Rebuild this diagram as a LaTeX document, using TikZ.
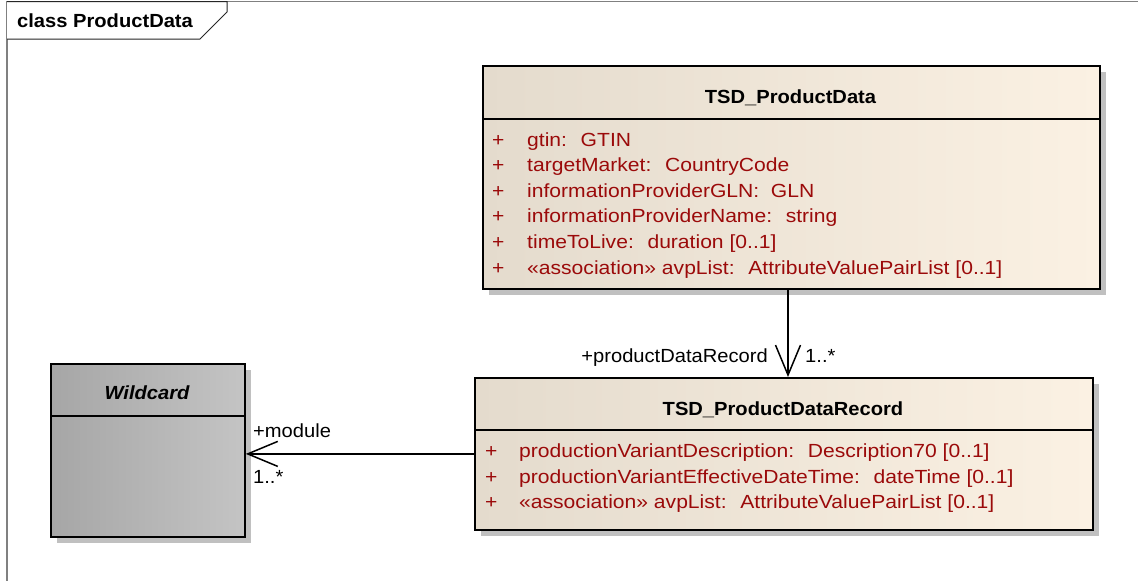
\documentclass[tikz,border=0pt]{standalone}
\usepackage{fontspec}
\setmainfont{Liberation Sans}[FakeStretch=1.06]
\newfontfamily\attrfont{Liberation Sans}[FakeStretch=1.11]
\usetikzlibrary{arrows.meta,shadows}

\definecolor{beigeL}{RGB}{228,219,205}
\definecolor{beigeR}{RGB}{251,241,227}
\definecolor{greyL}{RGB}{166,166,166}
\definecolor{greyR}{RGB}{196,196,196}
\definecolor{shadowgrey}{RGB}{192,192,192}
\definecolor{attrred}{RGB}{155,10,10}
\definecolor{framegrey}{RGB}{128,128,128}

\begin{document}
\begin{tikzpicture}[x=1pt,y=-1pt,
  font=\fontsize{19}{22}\selectfont,
  umlbox/.style={draw=black, line width=1.8pt, anchor=north west, inner sep=0pt,
    general shadow={fill=shadowgrey, shadow xshift=6pt, shadow yshift=-6pt}},
  classfill/.style={left color=beigeL, right color=beigeR},
  wildfill/.style={left color=greyL, right color=greyR},
  divider/.style={line width=1.5pt, black},
  classname/.style={anchor=base, inner sep=0pt, font=\fontsize{19}{22}\selectfont\bfseries},
  attr/.style={anchor=base west, inner sep=0pt, text=attrred, font=\fontsize{19}{22}\attrfont},
  lbl/.style={anchor=base west, inner sep=0pt, text=black},
  assoc/.style={line width=1.5pt, black, -{Straight Barb[length=30pt,width=25pt,line width=1.5pt]}}
]
\useasboundingbox (0,0) rectangle (1138,581);

% diagram frame with its name tab
\draw[framegrey, line width=1.5pt] (1138,1.5) -- (7,1.5) -- (7,581);
\draw[black!85, line width=1pt, fill=white] (7,1.5) -- (227,1.5) -- (227,12) -- (200,39) -- (7,39);
\node[anchor=base west, inner sep=0pt, font=\fontsize{19}{22}\selectfont\bfseries] (frametitle) at (17,27) {class ProductData};

% class TSD_ProductData
\node[umlbox, classfill, minimum width=617pt, minimum height=223pt] (pd) at (482,65) {};
\draw[divider] (482,119) -- (1099,119);
\node[classname] (pdname) at (790.5,103) {TSD\_ProductData};
\foreach \row [count=\i from 0] in {%
  {gtin:~ GTIN},
  {targetMarket:~ CountryCode},
  {informationProviderGLN:~ GLN},
  {informationProviderName:~ string},
  {timeToLive:~ duration [0..1]},
  {«association» avpList:~ AttributeValuePairList [0..1]}} {
  \node[attr] (pdplus\i) at (492,146+25.6*\i) {+};
  \node[attr] (pdattr\i) at (527,146+25.6*\i) {\row};
}

% class TSD_ProductDataRecord
\node[umlbox, classfill, minimum width=618pt, minimum height=152pt] (rec) at (474,377) {};
\draw[divider] (474,430) -- (1092,430);
\node[classname] (recname) at (783,415) {TSD\_ProductDataRecord};
\foreach \row [count=\i from 0] in {%
  {productionVariantDescription:~ Description70 [0..1]},
  {productionVariantEffectiveDateTime:~ dateTime [0..1]},
  {«association» avpList:~ AttributeValuePairList [0..1]}} {
  \node[attr] (recplus\i) at (485,457.5+25.5*\i) {+};
  \node[attr] (recattr\i) at (519,457.5+25.5*\i) {\row};
}

% abstract class Wildcard
\node[umlbox, wildfill, minimum width=194pt, minimum height=173pt] (wc) at (50,363) {};
\draw[divider] (50,416) -- (244,416);
\node[classname, font=\fontsize{19}{22}\selectfont\bfseries\itshape] (wcname) at (147,399) {Wildcard};

% associations
\coordinate (vx) at (788,0);
\draw[assoc] (pd.south -| vx) -- (rec.north -| vx);
\node[lbl, anchor=base east] (pdrrole) at (768,362) {+productDataRecord};
\node[lbl] (pdrmult) at (805,362) {1..*};

\draw[assoc] (rec.west) -- (rec.west -| wc.east);
\node[lbl] (modrole) at (253,437) {+module};
\node[lbl] (modmult) at (253,483) {1..*};
\end{tikzpicture}
\end{document}
